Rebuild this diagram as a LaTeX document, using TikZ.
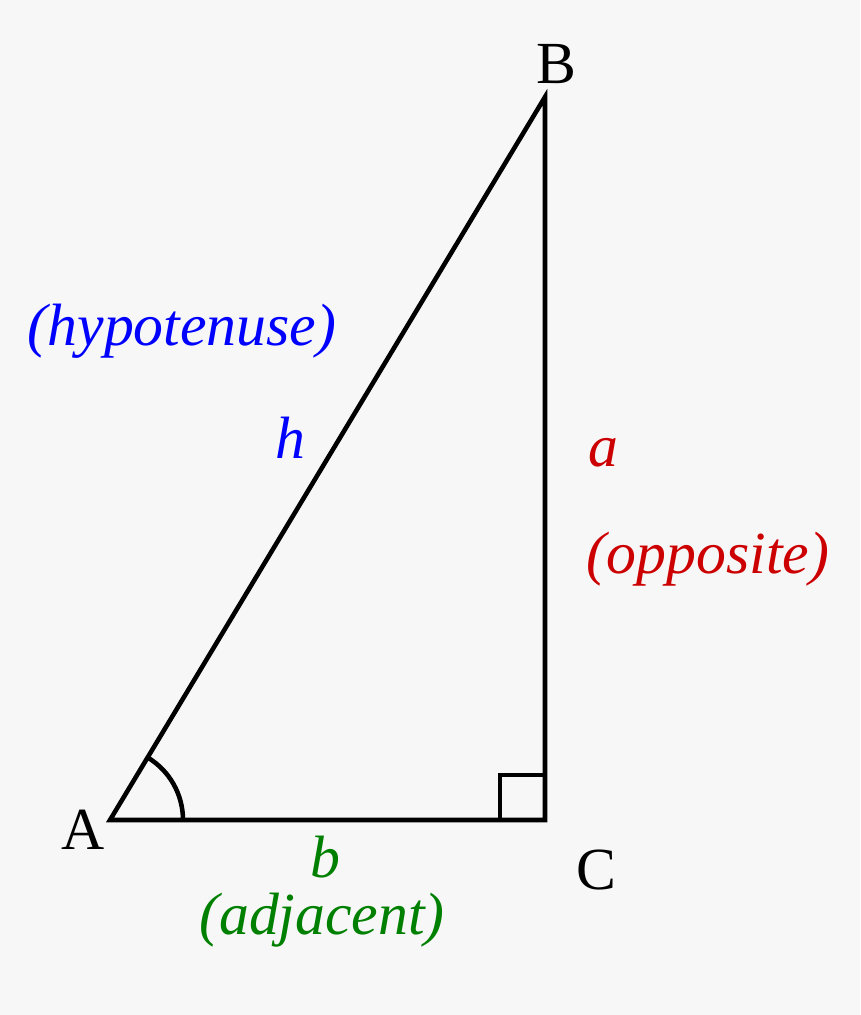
\documentclass[tikz,border=0pt]{standalone}
\usepackage{fontspec}
\setmainfont{Liberation Serif}
\usetikzlibrary{positioning, calc}
\definecolor{bgcol}{RGB}{247,247,247}
\definecolor{hypcol}{RGB}{0,0,255}
\definecolor{oppcol}{RGB}{204,0,0}
\definecolor{adjcol}{RGB}{0,128,0}
\tikzstyle{side} = [line width=2.6pt, line join=miter, black]
\tikzstyle{vertex} = [font=\fontsize{34}{40}\selectfont, inner sep=0pt]
\tikzstyle{sidelabel} = [font=\fontsize{34}{40}\selectfont\itshape, inner sep=0pt]

\begin{document}
\begin{tikzpicture}[x=0.02cm, y=-0.02cm]
    % Canvas
    \fill[bgcol] (0,0) rectangle (860,1015);
    \useasboundingbox (0,0) rectangle (860,1015);

    % Corners
    \coordinate (A) at (110,820);
    \coordinate (B) at (545,97);
    \coordinate (C) at (545,820);

    % Triangle
    \draw [side] (A) -- (B) -- (C) -- cycle;

    % Angle at A and right angle at C
    \draw [side] ($(A)+(73,0)$) arc [start angle=0, end angle=-59, radius=73];
    \draw [side] ($(C)+(-45,0)$) -- ++(0,-45) -- ++(45,0);

    % Vertex names
    \node (nameA) [vertex] at (83,830) {A};
    \node (nameB) [vertex] at (556,64) {B};
    \node (nameC) [vertex] at (596,870) {C};

    % Side labels
    \node (h) [sidelabel, text=hypcol] at (290,438) {h};
    \node (hyp) [sidelabel, text=hypcol] at (182,331) {(hypotenuse)};
    \node (a) [sidelabel, text=oppcol] at (603,453) {a};
    \node (opp) [sidelabel, text=oppcol] at (708,559) {(opposite)};
    \node (b) [sidelabel, text=adjcol] at (325,857) {b};
    \node (adj) [sidelabel, text=adjcol] at (322,920) {(adjacent)};
\end{tikzpicture}
\end{document}
